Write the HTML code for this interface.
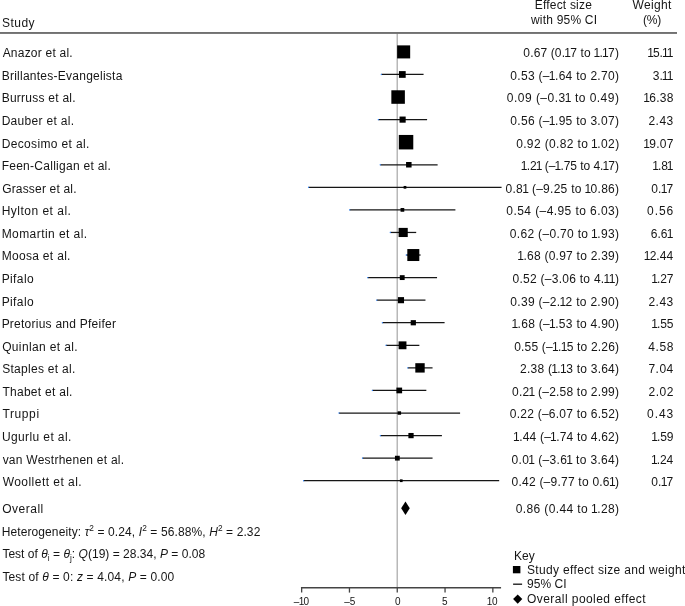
<!DOCTYPE html>
<html><head><meta charset="utf-8"><title>Forest plot</title>
<style>html,body{margin:0;padding:0;background:#fff;}
body{width:685px;height:606px;position:relative;overflow:hidden;font-family:"Liberation Sans",sans-serif;font-size:12px;color:#151515;}
svg{position:absolute;left:0;top:0;}
.t{position:absolute;white-space:nowrap;line-height:14px;height:14px;margin-top:-11.2px;}
.ax{font-size:10px;margin-top:-10.47px;}
sup,sub{font-size:8.3px;line-height:0;}
sup{vertical-align:5.1px;}
sub{vertical-align:-2.6px;}
i{font-style:italic;}
.o{margin-left:-0.9px;margin-right:-0.8px;}
.ax .o{margin-left:-0.7px;margin-right:-0.6px;}
#tx{position:absolute;left:0;top:0;width:685px;height:606px;will-change:transform;}
</style></head>
<body>
<svg width="685" height="606" viewBox="0 0 685 606">
<rect x="396.5" y="33.6" width="1.5" height="554" fill="#b8b8b8"/>
<rect x="0" y="32.15" width="677" height="1.65" fill="#5a5a5a"/>
<line x1="398.68" y1="51.90" x2="408.94" y2="51.90" stroke="#161616" stroke-width="1.25"/>
<rect x="398.08" y="51.30" width="1.1" height="1.2" fill="#2a82ff"/>
<rect x="397.13" y="45.38" width="13.04" height="13.04" fill="#000"/>
<line x1="381.37" y1="74.47" x2="423.56" y2="74.47" stroke="#161616" stroke-width="1.25"/>
<rect x="380.77" y="73.87" width="1.1" height="1.2" fill="#2a82ff"/>
<rect x="398.95" y="71.10" width="6.74" height="6.74" fill="#000"/>
<line x1="394.09" y1="97.04" x2="402.43" y2="97.04" stroke="#161616" stroke-width="1.25"/>
<rect x="393.49" y="96.44" width="1.1" height="1.2" fill="#2a82ff"/>
<rect x="391.35" y="90.28" width="13.52" height="13.52" fill="#000"/>
<line x1="378.41" y1="119.61" x2="427.10" y2="119.61" stroke="#161616" stroke-width="1.25"/>
<rect x="377.81" y="119.01" width="1.1" height="1.2" fill="#2a82ff"/>
<rect x="399.54" y="116.55" width="6.13" height="6.13" fill="#000"/>
<line x1="404.89" y1="142.18" x2="407.50" y2="142.18" stroke="#161616" stroke-width="1.25"/>
<rect x="404.29" y="141.58" width="1.1" height="1.2" fill="#2a82ff"/>
<rect x="398.81" y="134.95" width="14.47" height="14.47" fill="#000"/>
<line x1="380.32" y1="164.75" x2="437.62" y2="164.75" stroke="#161616" stroke-width="1.25"/>
<rect x="379.72" y="164.15" width="1.1" height="1.2" fill="#2a82ff"/>
<rect x="406.07" y="162.00" width="5.50" height="5.50" fill="#000"/>
<line x1="308.62" y1="187.32" x2="501.57" y2="187.32" stroke="#161616" stroke-width="1.25"/>
<rect x="308.02" y="186.72" width="1.1" height="1.2" fill="#2a82ff"/>
<rect x="403.63" y="185.96" width="2.72" height="2.72" fill="#000"/>
<line x1="349.73" y1="209.89" x2="455.40" y2="209.89" stroke="#161616" stroke-width="1.25"/>
<rect x="349.13" y="209.29" width="1.1" height="1.2" fill="#2a82ff"/>
<rect x="400.55" y="208.03" width="3.72" height="3.72" fill="#000"/>
<line x1="390.36" y1="232.46" x2="416.20" y2="232.46" stroke="#161616" stroke-width="1.25"/>
<rect x="389.76" y="231.86" width="1.1" height="1.2" fill="#2a82ff"/>
<rect x="398.61" y="227.89" width="9.14" height="9.14" fill="#000"/>
<line x1="406.32" y1="255.03" x2="420.60" y2="255.03" stroke="#161616" stroke-width="1.25"/>
<rect x="405.72" y="254.43" width="1.1" height="1.2" fill="#2a82ff"/>
<rect x="407.32" y="249.04" width="11.98" height="11.98" fill="#000"/>
<line x1="367.80" y1="277.60" x2="437.04" y2="277.60" stroke="#161616" stroke-width="1.25"/>
<rect x="367.20" y="277.00" width="1.1" height="1.2" fill="#2a82ff"/>
<rect x="399.80" y="275.18" width="4.85" height="4.85" fill="#000"/>
<line x1="376.78" y1="300.17" x2="425.47" y2="300.17" stroke="#161616" stroke-width="1.25"/>
<rect x="376.18" y="299.57" width="1.1" height="1.2" fill="#2a82ff"/>
<rect x="397.91" y="297.11" width="6.13" height="6.13" fill="#000"/>
<line x1="382.42" y1="322.74" x2="444.59" y2="322.74" stroke="#161616" stroke-width="1.25"/>
<rect x="381.82" y="322.14" width="1.1" height="1.2" fill="#2a82ff"/>
<rect x="410.71" y="320.14" width="5.20" height="5.20" fill="#000"/>
<line x1="386.06" y1="345.31" x2="419.36" y2="345.31" stroke="#161616" stroke-width="1.25"/>
<rect x="385.46" y="344.71" width="1.1" height="1.2" fill="#2a82ff"/>
<rect x="398.58" y="341.38" width="7.86" height="7.86" fill="#000"/>
<line x1="407.85" y1="367.88" x2="432.55" y2="367.88" stroke="#161616" stroke-width="1.25"/>
<rect x="407.25" y="367.28" width="1.1" height="1.2" fill="#2a82ff"/>
<rect x="415.31" y="363.19" width="9.38" height="9.38" fill="#000"/>
<line x1="372.39" y1="390.45" x2="426.33" y2="390.45" stroke="#161616" stroke-width="1.25"/>
<rect x="371.79" y="389.85" width="1.1" height="1.2" fill="#2a82ff"/>
<rect x="396.40" y="387.59" width="5.72" height="5.72" fill="#000"/>
<line x1="339.02" y1="413.02" x2="460.08" y2="413.02" stroke="#161616" stroke-width="1.25"/>
<rect x="338.42" y="412.42" width="1.1" height="1.2" fill="#2a82ff"/>
<rect x="397.63" y="411.30" width="3.45" height="3.45" fill="#000"/>
<line x1="380.42" y1="435.59" x2="441.92" y2="435.59" stroke="#161616" stroke-width="1.25"/>
<rect x="379.82" y="434.99" width="1.1" height="1.2" fill="#2a82ff"/>
<rect x="408.39" y="432.97" width="5.25" height="5.25" fill="#000"/>
<line x1="362.54" y1="458.16" x2="432.55" y2="458.16" stroke="#161616" stroke-width="1.25"/>
<rect x="361.94" y="457.56" width="1.1" height="1.2" fill="#2a82ff"/>
<rect x="394.94" y="455.76" width="4.81" height="4.81" fill="#000"/>
<line x1="303.65" y1="480.73" x2="499.18" y2="480.73" stroke="#161616" stroke-width="1.25"/>
<rect x="303.05" y="480.13" width="1.1" height="1.2" fill="#2a82ff"/>
<rect x="399.90" y="479.37" width="2.72" height="2.72" fill="#000"/>
<polygon points="401.17,508.3 405.47,501.6 409.77,508.3 405.47,515.0" fill="#000"/>
<line x1="300.95" y1="587.7" x2="501.07" y2="587.7" stroke="#444" stroke-width="1.4"/>
<line x1="301.65" y1="587.7" x2="301.65" y2="592.6" stroke="#444" stroke-width="1.3"/>
<line x1="349.45" y1="587.7" x2="349.45" y2="592.6" stroke="#444" stroke-width="1.3"/>
<line x1="397.25" y1="587.7" x2="397.25" y2="592.6" stroke="#444" stroke-width="1.3"/>
<line x1="445.05" y1="587.7" x2="445.05" y2="592.6" stroke="#444" stroke-width="1.3"/>
<line x1="492.85" y1="587.7" x2="492.85" y2="592.6" stroke="#444" stroke-width="1.3"/>
<rect x="512.9" y="566" width="7.5" height="7.3" fill="#000"/>
<line x1="513.1" y1="584.2" x2="522.1" y2="584.2" stroke="#111" stroke-width="1.3"/>
<polygon points="513.1,599.1 517.7,594.4 522.3,599.1 517.7,603.8" fill="#000"/>
</svg>
<div id="tx">
<div class="t " id="n0" style="top:57.50px;left:2.64px;letter-spacing:0.221px;">Anazor et al.</div>
<div class="t " id="c0" style="top:57.50px;left:523.35px;letter-spacing:0.139px;">0.67 (0.<span class="o">1</span>7 to <span class="o">1</span>.<span class="o">1</span>7)</div>
<div class="t " id="w0" style="top:57.50px;left:648.24px;letter-spacing:-0.150px;"><span class="o">1</span>5.<span class="o">1</span><span class="o">1</span></div>
<div class="t " id="n1" style="top:80.07px;left:1.64px;letter-spacing:0.255px;">Brillantes-Evangelista</div>
<div class="t " id="c1" style="top:80.07px;left:510.35px;letter-spacing:0.289px;">0.53 (–<span class="o">1</span>.64 to 2.70)</div>
<div class="t " id="w1" style="top:80.07px;left:652.79px;letter-spacing:-0.033px;">3.<span class="o">1</span><span class="o">1</span></div>
<div class="t " id="n2" style="top:102.64px;left:1.64px;letter-spacing:0.254px;">Burruss et al.</div>
<div class="t " id="c2" style="top:102.64px;left:506.85px;letter-spacing:0.474px;">0.09 (–0.3<span class="o">1</span> to 0.49)</div>
<div class="t " id="w2" style="top:102.64px;left:644.14px;letter-spacing:0.212px;"><span class="o">1</span>6.38</div>
<div class="t " id="n3" style="top:125.21px;left:1.64px;letter-spacing:0.308px;">Dauber et al.</div>
<div class="t " id="c3" style="top:125.21px;left:510.35px;letter-spacing:0.289px;">0.56 (–<span class="o">1</span>.95 to 3.07)</div>
<div class="t " id="w3" style="top:125.21px;left:648.44px;letter-spacing:0.483px;">2.43</div>
<div class="t " id="n4" style="top:147.78px;left:1.64px;letter-spacing:0.364px;">Decosimo et al.</div>
<div class="t " id="c4" style="top:147.78px;left:516.14px;letter-spacing:0.367px;">0.92 (0.82 to <span class="o">1</span>.02)</div>
<div class="t " id="w4" style="top:147.78px;left:644.14px;letter-spacing:0.212px;"><span class="o">1</span>9.07</div>
<div class="t " id="n5" style="top:170.35px;left:1.64px;letter-spacing:0.274px;">Feen-Calligan et al.</div>
<div class="t " id="c5" style="top:170.35px;left:521.69px;letter-spacing:-0.042px;"><span class="o">1</span>.2<span class="o">1</span> (–<span class="o">1</span>.75 to 4.<span class="o">1</span>7)</div>
<div class="t " id="w5" style="top:170.35px;left:653.14px;letter-spacing:-0.150px;"><span class="o">1</span>.8<span class="o">1</span></div>
<div class="t " id="n6" style="top:192.92px;left:2.14px;letter-spacing:0.181px;">Grasser et al.</div>
<div class="t " id="c6" style="top:192.92px;left:505.54px;letter-spacing:0.270px;">0.8<span class="o">1</span> (–9.25 to <span class="o">1</span>0.86)</div>
<div class="t " id="w6" style="top:192.92px;left:651.35px;letter-spacing:0.083px;">0.<span class="o">1</span>7</div>
<div class="t " id="n7" style="top:215.49px;left:1.64px;letter-spacing:0.496px;">Hylton et al.</div>
<div class="t " id="c7" style="top:215.49px;left:506.35px;letter-spacing:0.421px;">0.54 (–4.95 to 6.03)</div>
<div class="t " id="w7" style="top:215.49px;left:647.04px;letter-spacing:0.967px;">0.56</div>
<div class="t " id="n8" style="top:238.06px;left:1.64px;letter-spacing:0.439px;">Momartin et al.</div>
<div class="t " id="c8" style="top:238.06px;left:509.85px;letter-spacing:0.316px;">0.62 (–0.70 to <span class="o">1</span>.93)</div>
<div class="t " id="w8" style="top:238.06px;left:650.64px;letter-spacing:0.117px;">6.6<span class="o">1</span></div>
<div class="t " id="n9" style="top:260.63px;left:1.64px;letter-spacing:0.314px;">Moosa et al.</div>
<div class="t " id="c9" style="top:260.63px;left:518.19px;letter-spacing:0.247px;"><span class="o">1</span>.68 (0.97 to 2.39)</div>
<div class="t " id="w9" style="top:260.63px;left:644.64px;letter-spacing:0.025px;"><span class="o">1</span>2.44</div>
<div class="t " id="n10" style="top:283.20px;left:1.64px;letter-spacing:0.400px;">Pifalo</div>
<div class="t " id="c10" style="top:283.20px;left:512.50px;letter-spacing:0.266px;">0.52 (–3.06 to 4.<span class="o">1</span><span class="o">1</span>)</div>
<div class="t " id="w10" style="top:283.20px;left:652.14px;letter-spacing:-0.150px;"><span class="o">1</span>.27</div>
<div class="t " id="n11" style="top:305.77px;left:1.64px;letter-spacing:0.400px;">Pifalo</div>
<div class="t " id="c11" style="top:305.77px;left:510.35px;letter-spacing:0.289px;">0.39 (–2.<span class="o">1</span>2 to 2.90)</div>
<div class="t " id="w11" style="top:305.77px;left:648.44px;letter-spacing:0.483px;">2.43</div>
<div class="t " id="n12" style="top:328.34px;left:1.64px;letter-spacing:0.245px;">Pretorius and Pfeifer</div>
<div class="t " id="c12" style="top:328.34px;left:512.29px;letter-spacing:0.284px;"><span class="o">1</span>.68 (–<span class="o">1</span>.53 to 4.90)</div>
<div class="t " id="w12" style="top:328.34px;left:652.14px;letter-spacing:-0.150px;"><span class="o">1</span>.55</div>
<div class="t " id="n13" style="top:350.91px;left:2.14px;letter-spacing:0.362px;">Quinlan et al.</div>
<div class="t " id="c13" style="top:350.91px;left:514.19px;letter-spacing:0.182px;">0.55 (–<span class="o">1</span>.<span class="o">1</span>5 to 2.26)</div>
<div class="t " id="w13" style="top:350.91px;left:648.25px;letter-spacing:0.600px;">4.58</div>
<div class="t " id="n14" style="top:373.48px;left:2.14px;letter-spacing:0.296px;">Staples et al.</div>
<div class="t " id="c14" style="top:373.48px;left:520.00px;letter-spacing:0.239px;">2.38 (<span class="o">1</span>.<span class="o">1</span>3 to 3.64)</div>
<div class="t " id="w14" style="top:373.48px;left:648.44px;letter-spacing:0.483px;">7.04</div>
<div class="t " id="n15" style="top:396.05px;left:2.39px;letter-spacing:0.279px;">Thabet et al.</div>
<div class="t " id="c15" style="top:396.05px;left:512.04px;letter-spacing:0.205px;">0.2<span class="o">1</span> (–2.58 to 2.99)</div>
<div class="t " id="w15" style="top:396.05px;left:648.44px;letter-spacing:0.567px;">2.02</div>
<div class="t " id="n16" style="top:418.62px;left:2.39px;letter-spacing:0.620px;">Truppi</div>
<div class="t " id="c16" style="top:418.62px;left:509.85px;letter-spacing:0.237px;">0.22 (–6.07 to 6.52)</div>
<div class="t " id="w16" style="top:418.62px;left:647.04px;letter-spacing:0.967px;">0.43</div>
<div class="t " id="n17" style="top:441.19px;left:1.89px;letter-spacing:0.396px;">Ugurlu et al.</div>
<div class="t " id="c17" style="top:441.19px;left:514.00px;letter-spacing:0.187px;"><span class="o">1</span>.44 (–<span class="o">1</span>.74 to 4.62)</div>
<div class="t " id="w17" style="top:441.19px;left:652.14px;letter-spacing:-0.150px;"><span class="o">1</span>.59</div>
<div class="t " id="n18" style="top:463.76px;left:2.64px;letter-spacing:0.248px;">van Westrhenen et al.</div>
<div class="t " id="c18" style="top:463.76px;left:511.54px;letter-spacing:0.324px;">0.0<span class="o">1</span> (–3.6<span class="o">1</span> to 3.64)</div>
<div class="t " id="w18" style="top:463.76px;left:651.89px;letter-spacing:-0.150px;"><span class="o">1</span>.24</div>
<div class="t " id="n19" style="top:486.33px;left:2.64px;letter-spacing:0.468px;">Woollett et al.</div>
<div class="t " id="c19" style="top:486.33px;left:511.54px;letter-spacing:0.232px;">0.42 (–9.77 to 0.6<span class="o">1</span>)</div>
<div class="t " id="w19" style="top:486.33px;left:651.35px;letter-spacing:0.083px;">0.<span class="o">1</span>7</div>
<div class="t " id="ov" style="top:513.50px;left:2.14px;letter-spacing:0.525px;">Overall</div>
<div class="t " id="ovc" style="top:513.50px;left:515.64px;letter-spacing:0.389px;">0.86 (0.44 to <span class="o">1</span>.28)</div>
<div class="t " id="h1" style="top:536.10px;left:1.64px;letter-spacing:0.109px;">Heterogeneity: <i>τ</i><sup>2</sup> = 0.24, <i>I</i><sup>2</sup> = 56.88%, <i>H</i><sup>2</sup> = 2.32</div>
<div class="t " id="h2" style="top:558.60px;left:2.39px;letter-spacing:0.023px;">Test of <i>θ</i><sub>i</sub> = <i>θ</i><sub>j</sub>: <i>Q</i>(19) = 28.34, <i>P</i> = 0.08</div>
<div class="t " id="h3" style="top:581.20px;left:2.39px;letter-spacing:0.152px;">Test of <i>θ</i> = 0: <i>z</i> = 4.04, <i>P</i> = 0.00</div>
<div class="t " id="hs" style="top:27.00px;left:2.00px;letter-spacing:0.475px;">Study</div>
<div class="t " id="he1" style="top:9.60px;left:534.69px;letter-spacing:0.205px;">Effect size</div>
<div class="t " id="he2" style="top:23.90px;left:530.94px;letter-spacing:0.205px;">with 95% CI</div>
<div class="t " id="hw1" style="top:9.60px;left:632.44px;letter-spacing:0.340px;">Weight</div>
<div class="t " id="hw2" style="top:23.90px;left:642.89px;letter-spacing:-0.125px;">(%)</div>
<div class="t ax" id="am10" style="top:605.50px;left:293.85px;letter-spacing:-0.050px;">–<span class="o">1</span>0</div>
<div class="t ax" id="am5" style="top:605.50px;left:344.14px;letter-spacing:0.150px;">–5</div>
<div class="t ax" id="a0" style="top:605.50px;left:395.12px;">0</div>
<div class="t ax" id="a5" style="top:605.50px;left:442.12px;">5</div>
<div class="t ax" id="a10" style="top:605.50px;left:487.50px;letter-spacing:0.100px;"><span class="o">1</span>0</div>
<div class="t " id="k0" style="top:559.70px;left:514.04px;letter-spacing:-0.025px;">Key</div>
<div class="t " id="k1" style="top:573.90px;left:526.94px;letter-spacing:0.344px;">Study effect size and weight</div>
<div class="t " id="k2" style="top:588.30px;left:526.94px;letter-spacing:0.060px;">95% CI</div>
<div class="t " id="k3" style="top:602.80px;left:526.94px;letter-spacing:0.438px;">Overall pooled effect</div>
</div>
</body></html>
